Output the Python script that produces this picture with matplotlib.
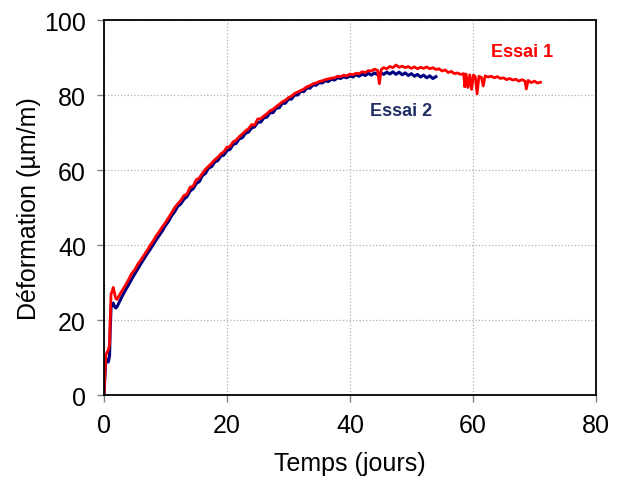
import matplotlib
matplotlib.use('Agg')
import matplotlib.pyplot as plt

plt.rcParams['font.family'] = ['Liberation Sans', 'DejaVu Sans']

# Essai 1 (red)
t_essai1 = [0, 0.15, 0.3, 0.5, 0.7, 0.9, 1.0, 1.15, 1.3, 1.5, 1.7, 1.9, 2.1, 2.4, 2.7, 3.0,
            3.5, 4.0, 4.5, 5.0, 5.5, 6.0, 6.5, 7.0, 7.5, 8.0, 8.5, 9.0, 9.5, 10.0,
            10.5, 11.0, 11.5, 12.0, 12.5, 13.0, 13.5, 14.0, 14.5, 15.0, 15.5, 16.0,
            16.5, 17.0, 17.5, 18.0, 18.5, 19.0, 19.5, 20.0, 20.5, 21.0, 21.5, 22.0,
            22.5, 23.0, 23.5, 24.0, 24.5, 25.0, 25.5, 26.0, 26.5, 27.0, 27.5, 28.0,
            28.5, 29.0, 29.5, 30.0, 30.5, 31.0, 31.5, 32.0, 32.5, 33.0, 33.5, 34.0,
            34.5, 35.0, 35.5, 36.0, 36.5, 37.0, 37.5, 38.0, 38.5, 39.0, 39.5, 40.0,
            40.5, 41.0, 41.5, 42.0, 42.5, 43.0, 43.5, 44.0, 44.5, 44.8, 45.1, 45.5,
            46.0, 46.5, 47.0, 47.5, 48.0, 48.5, 49.0, 49.5, 50.0, 50.5, 51.0, 51.5,
            52.0, 52.5, 53.0, 53.5, 54.0, 54.5, 55.0, 55.5, 56.0, 56.5, 57.0, 57.5,
            58.0, 58.5, 58.7, 58.9, 59.2, 59.5, 59.8, 60.1, 60.4, 60.7, 61.0, 61.4,
            61.7, 62.0, 62.5, 63.0, 63.5, 64.0, 64.5, 65.0, 65.5, 66.0, 66.5, 67.0,
            67.5, 68.0, 68.5, 68.7, 69.0, 69.5, 70.0, 70.5, 71.0]
eps_essai1 = [0, 6, 10.5, 11.5, 12, 13.5, 20, 27, 27.5, 28.7, 27.2, 25.8, 25.5, 26.3, 27.2, 28.0,
              29.3, 30.8, 32.4, 33.4, 34.9, 36.0, 37.3, 38.5, 39.9, 41.1, 42.5, 43.6, 44.9, 46.0,
              47.3, 48.6, 50.0, 51.0, 51.9, 53.2, 53.6, 55.4, 55.7, 57.4, 57.9, 59.1,
              60.2, 61.0, 61.8, 62.7, 63.4, 64.3, 64.9, 66.1, 66.3, 67.5, 68.0, 68.9,
              69.6, 70.4, 71.0, 72.1, 72.0, 73.6, 73.7, 74.4, 75.0, 75.8, 76.2, 76.9,
              77.5, 78.2, 78.6, 79.3, 79.7, 80.4, 80.8, 81.2, 81.6, 82.2, 82.5, 83.0,
              83.2, 83.6, 83.8, 84.1, 84.3, 84.5, 84.6, 85.0, 84.9, 85.3, 85.1, 85.6,
              85.4, 85.8, 85.7, 86.2, 86.0, 86.5, 86.4, 86.9, 86.6, 83.0, 86.8, 87.3,
              87.0, 87.6, 87.3, 88.0, 87.4, 87.7, 87.3, 87.6, 87.1, 87.5, 87.0, 87.4,
              87.1, 87.5, 87.0, 87.3, 86.8, 87.0, 86.4, 86.7, 86.0, 86.3, 85.7, 85.9,
              85.5, 85.7, 82.2, 85.6, 82.0, 85.4, 81.5, 85.3, 84.9, 80.3, 85.0, 84.7,
              82.4, 85.1, 84.8, 85.0, 84.6, 84.9, 84.4, 84.6, 84.1, 84.4, 84.0, 84.2,
              83.7, 84.1, 83.7, 81.6, 83.9, 83.3, 83.7, 83.2, 83.4]

# Essai 2 (navy)
t_essai2 = [0, 0.15, 0.3, 0.5, 0.7, 0.9, 1.0, 1.15, 1.3, 1.5, 1.7, 1.9, 2.1, 2.4, 2.7, 3.0,
            3.5, 4.0, 4.5, 5.0, 5.5, 6.0, 6.5, 7.0, 7.5, 8.0, 8.5, 9.0, 9.5, 10.0,
            10.5, 11.0, 11.5, 12.0, 12.5, 13.0, 13.5, 14.0, 14.5, 15.0, 15.5, 16.0,
            16.5, 17.0, 17.5, 18.0, 18.5, 19.0, 19.5, 20.0, 20.5, 21.0, 21.5, 22.0,
            22.5, 23.0, 23.5, 24.0, 24.5, 25.0, 25.5, 26.0, 26.5, 27.0, 27.5, 28.0,
            28.5, 29.0, 29.5, 30.0, 30.5, 31.0, 31.5, 32.0, 32.5, 33.0, 33.5, 34.0,
            34.5, 35.0, 35.5, 36.0, 36.5, 37.0, 37.5, 38.0, 38.5, 39.0, 39.5, 40.0,
            40.5, 41.0, 41.5, 42.0, 42.5, 43.0, 43.5, 44.0, 44.5, 45.0, 45.5, 46.0,
            46.5, 47.0, 47.5, 48.0, 48.5, 49.0, 49.5, 50.0, 50.5, 51.0, 51.5, 52.0,
            52.5, 53.0, 53.5, 54.0]
eps_essai2 = [0, 5, 9, 9.5, 8.8, 10.5, 17, 23.5, 24.2, 24.5, 23.6, 23.2, 23.5, 24.5, 25.5, 26.5,
              28.0, 29.4, 30.9, 32.3, 33.6, 35.0, 36.3, 37.6, 38.8, 40.1, 41.4, 42.6, 43.8, 45.2,
              46.3, 47.8, 48.9, 50.3, 51.0, 52.2, 52.9, 54.4, 55.0, 56.4, 56.9, 58.5,
              59.1, 60.5, 60.9, 62.1, 62.5, 63.7, 64.0, 65.2, 65.5, 66.8, 67.1, 68.3,
              68.6, 69.8, 70.1, 71.2, 71.5, 72.7, 72.8, 73.9, 74.1, 75.3, 75.3, 76.5,
              76.6, 77.8, 77.8, 78.9, 78.9, 80.0, 80.0, 81.0, 80.9, 81.9, 81.8, 82.7,
              82.6, 83.3, 83.2, 83.8, 83.6, 84.2, 84.0, 84.6, 84.4, 84.9, 84.6, 85.1,
              84.8, 85.4, 85.0, 85.6, 85.2, 85.8, 85.3, 85.9, 85.4, 86.0, 85.5, 86.1,
              85.6, 86.2, 85.5, 86.1, 85.4, 85.9, 85.2, 85.7, 85.0, 85.5, 84.8, 85.3,
              84.6, 85.1, 84.4, 84.9]

fig = plt.figure(figsize=(6.24, 4.81), dpi=100)
ax = fig.add_axes([0.1667, 0.1767, 0.788, 0.7796])

ax.plot(t_essai2, eps_essai2, color='#000080', lw=2.2)
ax.plot(t_essai1, eps_essai1, color='#ff0000', lw=2.0)

ax.set_xlim(0, 80)
ax.set_ylim(0, 100)
ax.set_xticks([0, 20, 40, 60, 80])
ax.set_yticks([0, 20, 40, 60, 80, 100])
ax.grid(True, color='#b0b0b0', linestyle=':', linewidth=0.9)
ax.tick_params(direction='out', length=5, width=1, color='#808080',
               labelsize=18, pad=8)
for s in ax.spines.values():
    s.set_linewidth(1.3)
    s.set_color('black')

ax.set_xlabel('Temps (jours)', fontsize=18, labelpad=10)
ax.set_ylabel('Déformation (µm/m)', fontsize=18, labelpad=2)

ax.text(63, 90.5, 'Essai 1', color='#ff0000', fontsize=13, fontweight='bold')
ax.text(43.2, 74.8, 'Essai 2', color='#1f2f63', fontsize=13, fontweight='bold')

fig.savefig('out.png', dpi=100)
